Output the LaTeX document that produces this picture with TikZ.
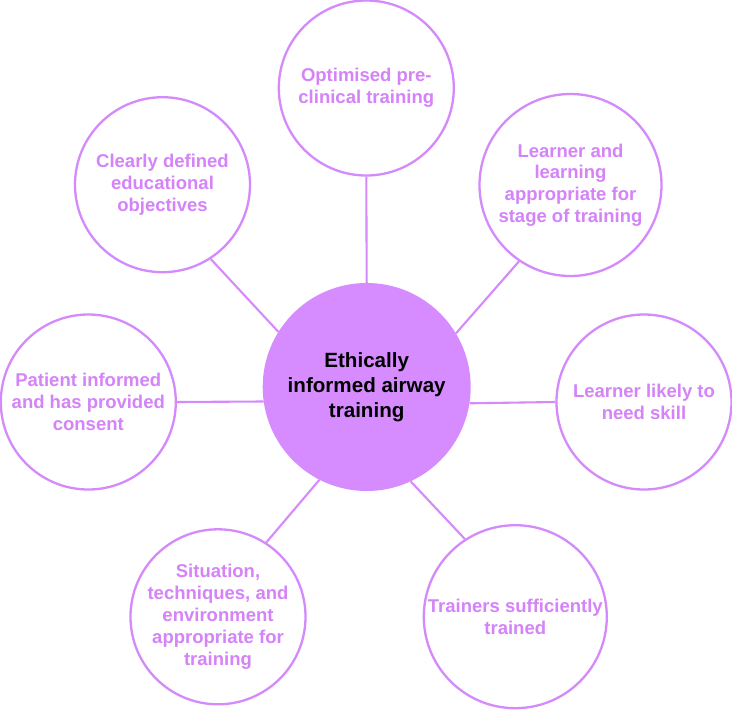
\documentclass[tikz,border=0pt]{standalone}
\usepackage{fontspec}
\setmainfont{Liberation Sans}
\definecolor{pstroke}{HTML}{D58AFB}
\definecolor{pfill}{HTML}{D68BFF}
\definecolor{ptext}{HTML}{D483F8}
\begin{document}
\begin{tikzpicture}[x=1pt,y=-1pt,
  outer/.style={circle,draw=pstroke,line width=2.3pt,fill=white,inner sep=0pt,
    text=ptext,font=\fontsize{18.5}{21.8}\selectfont\bfseries,align=center},
  hub/.style={circle,fill=pfill,inner sep=0pt,minimum size=208pt,
    text=black,font=\fontsize{20.6}{25}\selectfont\bfseries,align=center},
  link/.style={draw=pstroke,line width=2.1pt}]
\fill[white] (0,0) rectangle (732,710);
\useasboundingbox (0,0) rectangle (732,710);
\node[hub] (C) at (366.7,387) {Ethically\\informed airway\\training};
\node[outer,minimum size=175pt] (T) at (366.3,88) {Optimised pre-\\clinical training};
\node[outer,minimum size=175pt] (UL) at (162.5,184.7) {Clearly defined\\educational\\objectives};
\node[outer,minimum size=182pt] (UR) at (570.5,185) {Learner and\\learning\\appropriate for\\stage of training};
\node[outer,minimum size=175pt] (L) at (88.3,402) {Patient informed\\and has provided\\consent};
\node[outer,minimum size=175pt] (R) at (644,402) {Learner likely to\\need skill};
\node[outer,minimum size=175pt] (LL) at (218,616.8) {Situation,\\techniques, and\\environment\\appropriate for\\training};
\node[outer,minimum size=183pt] (LR) at (515.3,616.7) {Trainers sufficiently\\trained};
\draw[link] (T.270) -- (C.90);
\draw[link] (UL.303.5) -- (C.148.3);
\draw[link] (UR.236) -- (C.31.8);
\draw[link] (L.0) -- (C.188.3);
\draw[link] (R.180) -- (C.351.7);
\draw[link] (LL.57.5) -- (C.243.7);
\draw[link] (LR.123) -- (C.295.9);
\end{tikzpicture}
\end{document}
